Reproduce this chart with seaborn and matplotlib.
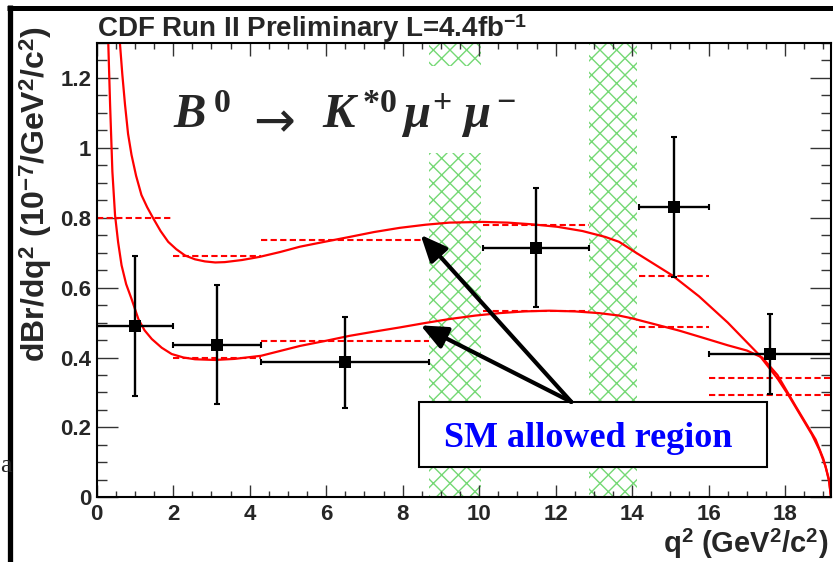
import numpy as np
import pandas as pd
import matplotlib
matplotlib.use("Agg")
import matplotlib.pyplot as plt
import seaborn as sns
from matplotlib.patches import Rectangle
from matplotlib.lines import Line2D
from matplotlib.ticker import MultipleLocator, FuncFormatter

# ---------------- data ----------------
q2_center = [1.0, 3.15, 6.49, 11.475, 15.09, 17.6]
q2_halfwidth = [1.0, 1.15, 2.19, 1.385, 0.91, 1.6]
dbr = [0.49, 0.437, 0.386, 0.714, 0.831, 0.41]
dbr_err = [0.20, 0.17, 0.13, 0.17, 0.20, 0.114]

bin_lo = [0.0, 2.0, 4.3, 10.09, 14.18, 16.0]
bin_hi = [2.0, 4.3, 8.68, 12.86, 16.0, 19.2]
sm_bin_upper = [np.nan, 0.69, 0.737, 0.78, 0.633, 0.342]
sm_bin_lower = [0.80, 0.40, 0.446, 0.532, 0.486, 0.294]

upper_q2 = [0.60, 0.67, 0.74, 0.82, 0.91, 1.03, 1.17, 1.32, 1.48, 1.67, 1.87, 2.08,
            2.31, 2.57, 2.83, 3.10, 3.35, 3.8, 4.26, 4.8, 5.31, 5.95, 6.61, 7.25,
            7.92, 8.6, 9.22, 10.09, 10.75, 11.40, 12.05, 12.70, 13.3, 13.66, 14.1,
            15.05, 15.75, 16.5, 17.3, 17.8, 18.1, 18.4, 18.7, 18.9, 19.06, 19.15, 19.2]
upper_val = [1.31, 1.21, 1.124, 1.04, 0.98, 0.92, 0.865, 0.83, 0.798, 0.762, 0.731, 0.71,
             0.692, 0.681, 0.675, 0.672, 0.673, 0.679, 0.688, 0.702, 0.717, 0.731, 0.745, 0.759,
             0.771, 0.780, 0.786, 0.788, 0.786, 0.781, 0.774, 0.762, 0.745, 0.731, 0.70,
             0.635, 0.575, 0.50, 0.41, 0.34, 0.29, 0.235, 0.18, 0.135, 0.088, 0.045, 0.0]

lower_q2 = [0.30, 0.35, 0.41, 0.48, 0.56, 0.65, 0.77, 0.91, 1.09, 1.25, 1.44, 1.70, 1.96,
            2.27, 2.57, 3.09, 3.6, 4.3, 5.31, 6.0, 6.61, 7.25, 7.92, 8.6, 9.22, 9.9,
            10.53, 11.2, 11.83, 12.5, 13.14, 13.66, 14.0, 14.6, 15.23, 15.9, 16.5, 17.0,
            17.4, 17.8, 18.28, 18.8, 19.0, 19.15, 19.2]
lower_val = [1.31, 1.124, 0.932, 0.807, 0.73, 0.664, 0.61, 0.568, 0.510, 0.478, 0.453, 0.428, 0.41,
             0.40, 0.395, 0.393, 0.396, 0.405, 0.433, 0.448, 0.462, 0.474, 0.486, 0.499, 0.510, 0.52,
             0.527, 0.532, 0.534, 0.532, 0.527, 0.520, 0.512, 0.495, 0.477, 0.455, 0.435, 0.42,
             0.40, 0.35, 0.26, 0.165, 0.11, 0.05, 0.0]

veto_lo = [8.7, 12.88]
veto_hi = [10.05, 14.13]

xticks = [0, 2, 4, 6, 8, 10, 12, 14, 16, 18]
yticks = [0, 0.2, 0.4, 0.6, 0.8, 1.0, 1.2]

# ---------------- style ----------------
sns.set_style("ticks")
plt.rcParams["font.family"] = ["Liberation Sans", "DejaVu Sans"]
plt.rcParams["font.weight"] = "bold"
plt.rcParams["mathtext.fontset"] = "custom"
plt.rcParams["mathtext.rm"] = "Liberation Serif:bold"
plt.rcParams["mathtext.it"] = "Liberation Serif:bold:italic"
plt.rcParams["mathtext.bf"] = "Liberation Serif:bold"
plt.rcParams["mathtext.sf"] = "Liberation Sans:bold"
plt.rcParams["hatch.linewidth"] = 1.0
plt.rcParams["hatch.color"] = "#74d874"

W, H = 833, 562
fig = plt.figure(figsize=(W / 100, H / 100), dpi=100)
fig.patch.set_facecolor("white")
ax = fig.add_axes([96.7 / W, 1 - 497.3 / H, (831 - 96.7) / W, (497.3 - 43) / H])
ax.set_facecolor("white")
ax.set_xlim(0, 19.2)
ax.set_ylim(0, 1.3)

# vetoed charmonium regions (hatched)
green = "#74d874"
hatch = "xx"
ax.axvspan(veto_lo[0], veto_hi[0], ymin=0, ymax=0.985 / 1.3, facecolor="none",
           edgecolor=green, hatch=hatch, lw=0, zorder=0.5)
ax.axvspan(veto_lo[0], veto_hi[0], ymin=1.235 / 1.3, ymax=1, facecolor="none",
           edgecolor=green, hatch=hatch, lw=0, zorder=0.5)
ax.axvspan(veto_lo[1], veto_hi[1], ymin=0, ymax=1, facecolor="none",
           edgecolor=green, hatch=hatch, lw=0, zorder=0.5)

# SM curves
curves = pd.concat([
    pd.DataFrame({"q2": upper_q2, "val": upper_val, "bound": "upper"}),
    pd.DataFrame({"q2": lower_q2, "val": lower_val, "bound": "lower"}),
])
sns.lineplot(data=curves, x="q2", y="val", hue="bound", palette=["red", "red"],
             estimator=None, sort=False, legend=False, lw=1.6, ax=ax, zorder=2)

# SM bin averages (dashed)
for lo, hi, u, l in zip(bin_lo, bin_hi, sm_bin_upper, sm_bin_lower):
    for v in (u, l):
        if not np.isnan(v):
            ax.hlines(v, lo, hi, colors="red", linestyles=(0, (3, 1.6)), lw=1.5, zorder=2)

# data points
ax.errorbar(q2_center, dbr, xerr=q2_halfwidth, yerr=dbr_err, fmt="none",
            ecolor="black", elinewidth=1.7, capsize=2, capthick=1.5, zorder=3)
sns.scatterplot(x=q2_center, y=dbr, marker="s", s=64, color="black",
                edgecolor="black", linewidth=0, ax=ax, zorder=4)

# SM allowed region box and arrows
ax.add_patch(Rectangle((8.44, 0.086), 17.53 - 8.44, 0.273 - 0.086, facecolor="white",
                       edgecolor="black", lw=1.5, zorder=5))
ax.text(12.84, 0.145, "SM allowed region", color="blue", family="Liberation Serif",
        weight="bold", fontsize=26, ha="center", va="baseline", zorder=6)
for tip in [(8.47, 0.751), (8.47, 0.492)]:
    ax.annotate("", xy=tip, xytext=(12.41, 0.273), zorder=6,
                arrowprops=dict(arrowstyle="-|>,head_length=0.8,head_width=0.35",
                                lw=3, color="black", mutation_scale=20,
                                shrinkA=0, shrinkB=0))

# decay formula
ax.text(1.99, 1.057, r"$B^{\,\mathrm{0}}$", fontsize=35, ha="left", va="baseline", zorder=6)
ax.text(4.65, 1.03, "\u2192", family="DejaVu Sans", weight="normal", fontsize=36,
        ha="center", va="baseline", zorder=6)
ax.text(5.9, 1.057, r"$K^{\,\mathrm{*0}}\,\mu^{\mathrm{+}}\;\mu^{\,\mathrm{-}}$",
        fontsize=35, ha="left", va="baseline", zorder=6)

# axes styling
for s in ax.spines.values():
    s.set_linewidth(1.5)
    s.set_color("black")
ax.xaxis.set_major_locator(MultipleLocator(2))
ax.xaxis.set_minor_locator(MultipleLocator(0.5))
ax.yaxis.set_major_locator(MultipleLocator(0.2))
ax.yaxis.set_minor_locator(MultipleLocator(0.05))
ax.set_xticks(xticks)
ax.set_yticks(yticks)
fmt = FuncFormatter(lambda v, p: "%g" % round(v, 3))
ax.xaxis.set_major_formatter(fmt)
ax.yaxis.set_major_formatter(fmt)
ax.tick_params(which="both", direction="in", top=True, right=True, width=1.0, color="#333333")
ax.tick_params(axis="x", which="major", length=9, labelsize=16, pad=5)
ax.tick_params(axis="x", which="minor", length=4.5)
ax.tick_params(axis="y", which="major", length=15, labelsize=16, pad=4)
ax.tick_params(axis="y", which="minor", length=7.5)
for lab in ax.get_xticklabels() + ax.get_yticklabels():
    lab.set_fontweight("bold")
ax.set_xlabel("")
ax.set_ylabel("")

# titles / labels
fig.text(97 / W, 1 - 37 / H, r"CDF Run II Preliminary L=4.4fb$^{\mathsf{-1}}$",
         fontsize=20, weight="bold", ha="left", va="baseline")
fig.text(36 / W, 1 - 194 / H,
         r"dBr/dq$^{\mathsf{2}}$ (10$^{\mathsf{-7}}$/GeV$^{\mathsf{2}}$/c$^{\mathsf{2}}$)",
         fontsize=23, weight="bold", rotation=90, ha="center", va="center")
fig.text(828 / W, 1 - 553 / H, r"q$^{\mathsf{2}}$ (GeV$^{\mathsf{2}}$/c$^{\mathsf{2}}$)",
         fontsize=21, weight="bold", ha="right", va="baseline")

# slide remnants: stray letter and black frame
fig.text(0.5 / W, 1 - 472 / H, "a", family="Liberation Serif", fontsize=19,
         ha="left", va="baseline", weight="normal")
fig.add_artist(Line2D([9.5 / W, 9.5 / W], [0, 1 - 5 / H], color="black", lw=3.8,
                      transform=fig.transFigure, solid_capstyle="butt"))
fig.add_artist(Line2D([7 / W, 1], [1 - 7.5 / H, 1 - 7.5 / H], color="black", lw=3.6,
                      transform=fig.transFigure, solid_capstyle="butt"))

fig.savefig("out.png", dpi=100)
